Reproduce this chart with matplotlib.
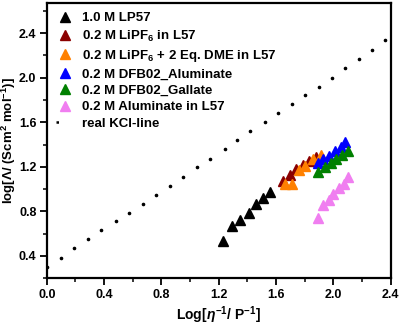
import matplotlib
matplotlib.use("Agg")
import matplotlib.pyplot as plt
from matplotlib.lines import Line2D
from matplotlib.ticker import MultipleLocator

plt.rcParams['font.family'] = ['Liberation Sans', 'DejaVu Sans']
plt.rcParams['font.weight'] = 'bold'
plt.rcParams['mathtext.fontset'] = 'custom'
plt.rcParams['mathtext.rm'] = 'Liberation Sans:bold'
plt.rcParams['mathtext.bf'] = 'Liberation Sans:bold'
plt.rcParams['mathtext.it'] = 'Liberation Sans:bold:italic'
plt.rcParams['mathtext.default'] = 'bf'

# ---- data ----
lp57_x = [1.23, 1.29, 1.35, 1.41, 1.46, 1.51, 1.56]
lp57_y = [0.53, 0.67, 0.72, 0.79, 0.87, 0.92, 0.97]

lipf6_x = [1.65, 1.70, 1.74, 1.79, 1.83, 1.88]
lipf6_y = [1.07, 1.13, 1.18, 1.22, 1.25, 1.29]

dme_x = [1.66, 1.71, 1.76, 1.80, 1.86, 1.91]
dme_y = [1.05, 1.05, 1.17, 1.21, 1.27, 1.31]

alu_x = [1.89, 1.93, 1.97, 2.01, 2.05, 2.08]
alu_y = [1.23, 1.27, 1.30, 1.34, 1.38, 1.42]

gal_x = [1.89, 1.94, 1.98, 2.02, 2.06, 2.10]
gal_y = [1.15, 1.20, 1.23, 1.27, 1.31, 1.34]

alul57_x = [1.89, 1.93, 1.97, 2.00, 2.04, 2.07, 2.10]
alul57_y = [0.74, 0.86, 0.90, 0.96, 1.01, 1.05, 1.11]

kcl_x = [0.00, 0.10, 0.19, 0.29, 0.38, 0.48, 0.57, 0.67, 0.76, 0.86, 0.95, 1.05,
         1.14, 1.24, 1.33, 1.42, 1.52, 1.61, 1.71, 1.80, 1.90, 1.99, 2.08, 2.18,
         2.27, 2.36]
kcl_y = [0.30, 0.385, 0.47, 0.55, 0.63, 0.71, 0.79, 0.87, 0.95, 1.03, 1.11, 1.195,
         1.27, 1.36, 1.44, 1.52, 1.60, 1.68, 1.76, 1.84, 1.92, 2.00, 2.09, 2.17,
         2.25, 2.34]

labels = ["1.0 M LP57",
          "0.2 M LiPF$_6$ in L57",
          "0.2 M LiPF$_6$ + 2 Eq. DME in L57",
          "0.2 M DFB02_Aluminate",
          "0.2 M DFB02_Gallate",
          "0.2 M Aluminate in L57",
          "real KCl-line"]
colors = ['#000000', '#8B0000', '#FF8000', '#0000FF', '#008000', '#F07EF0']

fig = plt.figure(figsize=(4.0, 3.27), dpi=100)
ax = fig.add_axes([0.117, 0.149, 0.860, 0.842])

series = [(lp57_x, lp57_y), (lipf6_x, lipf6_y), (dme_x, dme_y),
          (alu_x, alu_y), (gal_x, gal_y), (alul57_x, alul57_y)]
handles = []
for (xs, ys), c, lab in zip(series, colors, labels[:6]):
    h, = ax.plot(xs, ys, ls='none', marker='^', ms=7.5, color=c, mec=c, label=lab)
    handles.append(h)

ax.plot(kcl_x, kcl_y, ls='none', marker='o', ms=1.6, color='black')
kcl_handle = Line2D([0], [0], color='black', lw=1.8, linestyle=(0, (1, 9)))
handles.append(kcl_handle)

ax.set_xlim(0, 2.4)
ax.set_ylim(0.2, 2.67)
ax.xaxis.set_major_locator(MultipleLocator(0.4))
ax.xaxis.set_minor_locator(MultipleLocator(0.2))
ax.yaxis.set_major_locator(MultipleLocator(0.4))
ax.yaxis.set_minor_locator(MultipleLocator(0.2))
ax.tick_params(which='major', direction='out', length=5, width=1.3, labelsize=9, pad=2.5)
ax.tick_params(which='minor', direction='out', length=3, width=1.1)
for lbl in ax.get_xticklabels() + ax.get_yticklabels():
    lbl.set_fontweight('bold')
for s in ax.spines.values():
    s.set_linewidth(1.6)

ax.set_xlabel(r"Log[$\mathit{\eta}^{-1}$/ P$^{-1}$]", fontsize=10, fontweight='bold', labelpad=3)
ax.set_ylabel(r"log[$\mathit{\Lambda}$/ (Scm$^{2}$ mol$^{-1}$)]", fontsize=9.5, fontweight='bold')
ax.yaxis.set_label_coords(-0.083, 0.5)

leg = ax.legend(handles, labels, loc='upper left', frameon=False,
                prop={'weight': 'bold', 'size': 9.5}, handlelength=1.4,
                handletextpad=0.6, labelspacing=0.32, borderaxespad=0.3,
                bbox_to_anchor=(0.0, 1.0))

fig.savefig("out.png", dpi=100)
